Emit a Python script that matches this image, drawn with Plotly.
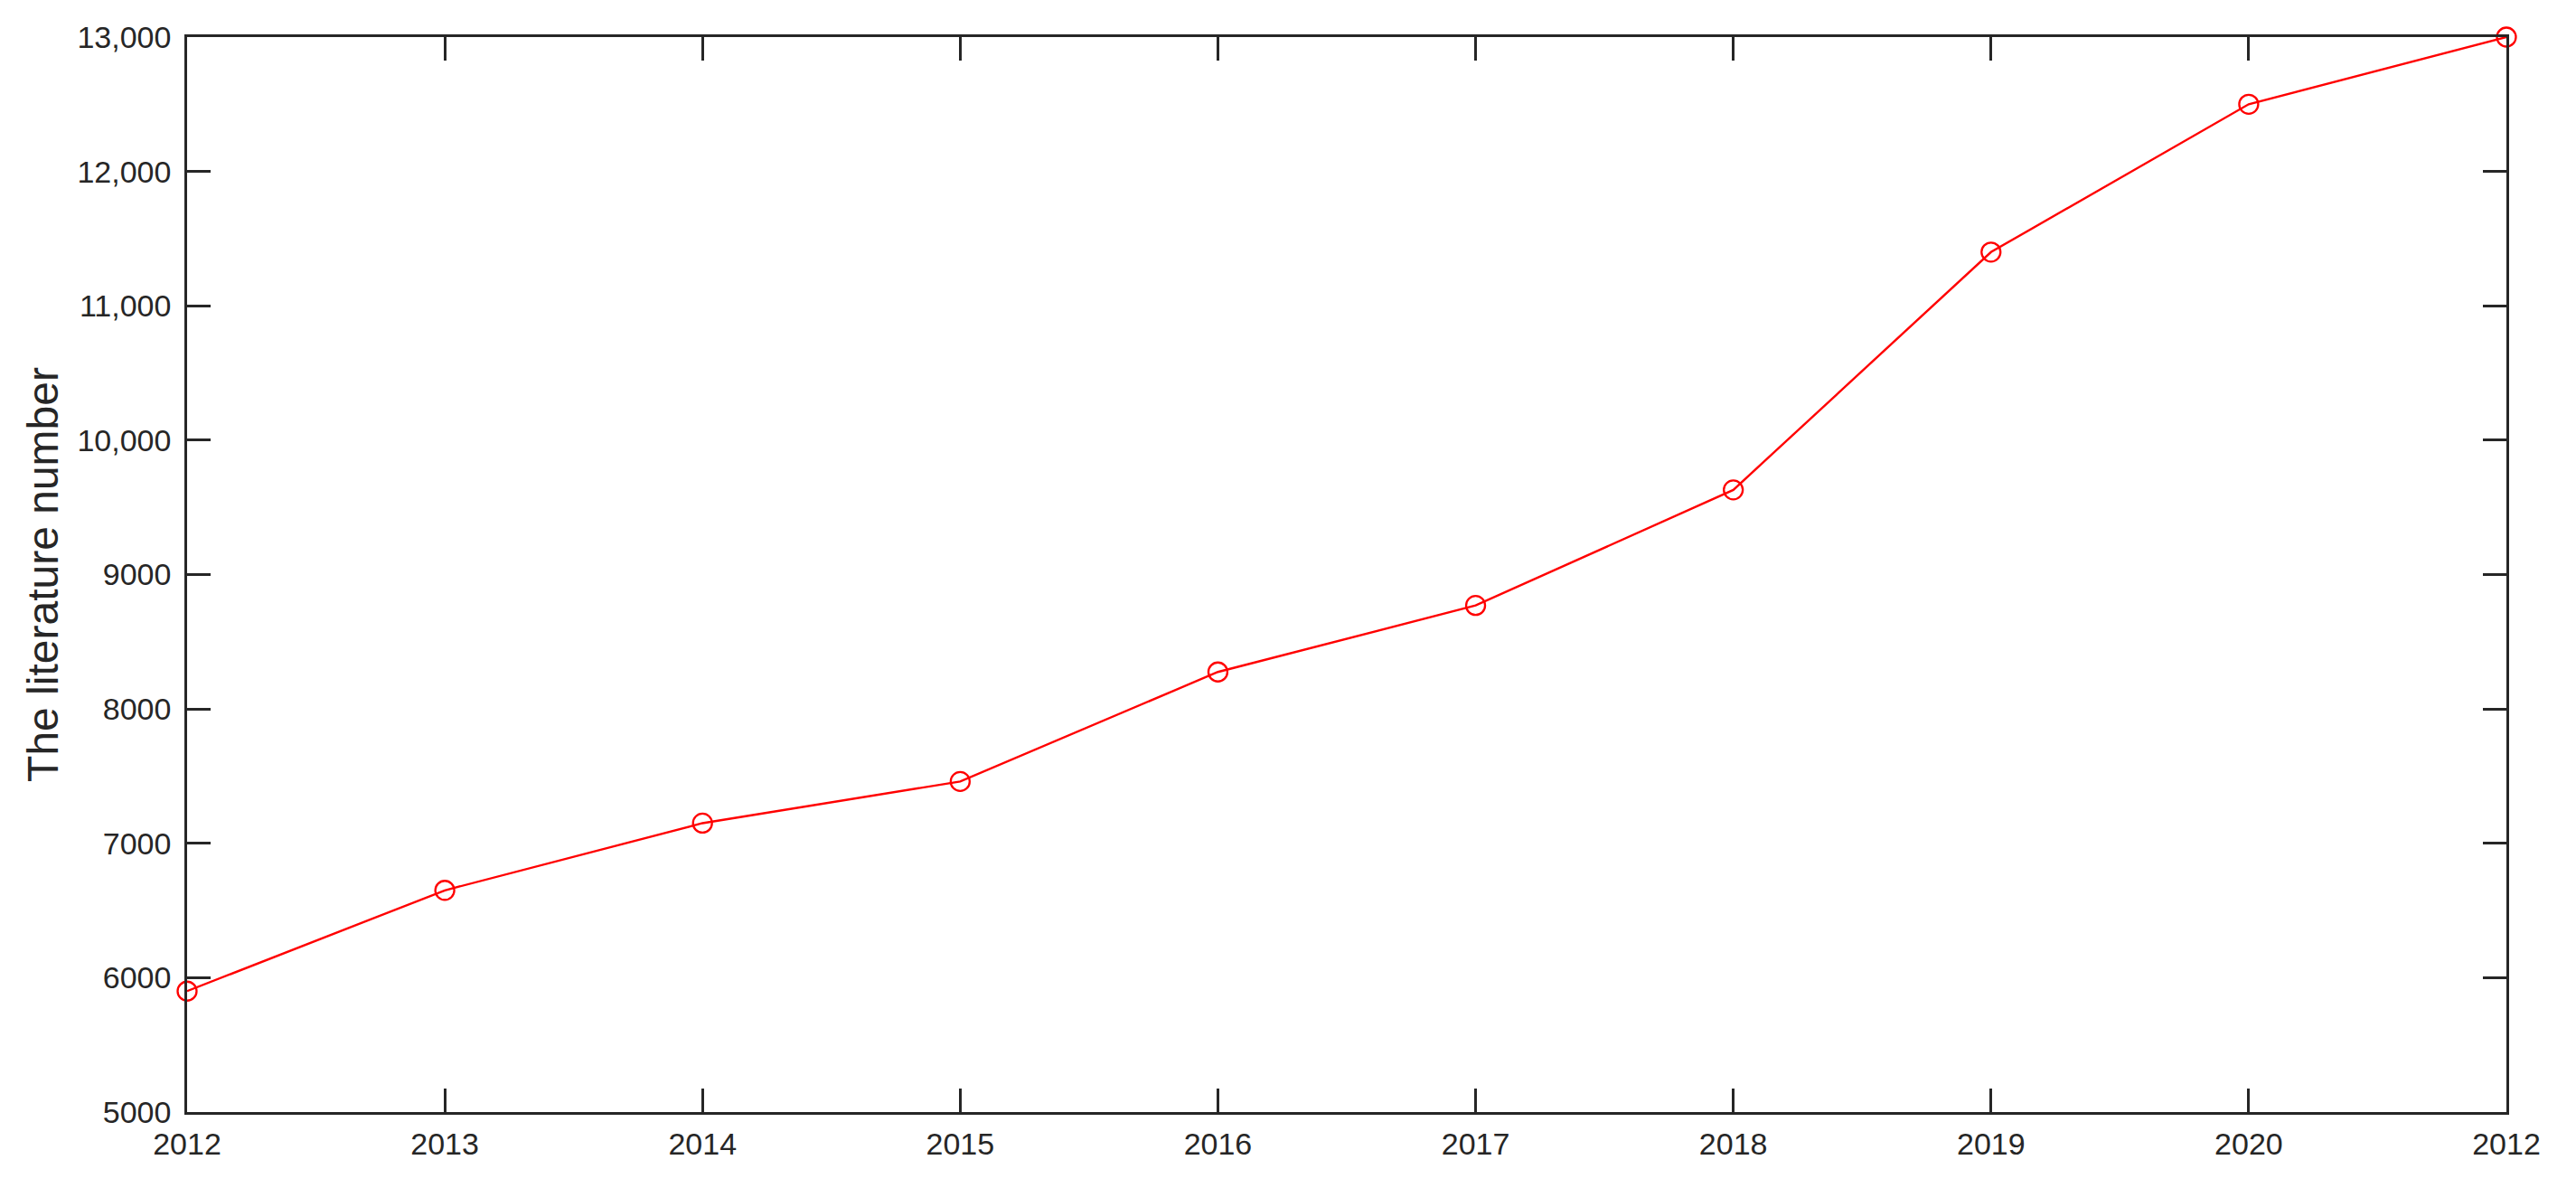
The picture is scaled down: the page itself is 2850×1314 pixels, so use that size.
import plotly.graph_objects as go

years_labels = ["2012", "2013", "2014", "2015", "2016", "2017", "2018", "2019", "2020", "2012"]
positions = list(range(len(years_labels)))
literature_number = [5900, 6650, 7150, 7460, 8275, 8770, 9630, 11400, 12500, 13000]

y_tickvals = [5000, 6000, 7000, 8000, 9000, 10000, 11000, 12000, 13000]
y_ticktext = ["5000", "6000", "7000", "8000", "9000", "10,000", "11,000", "12,000", "13,000"]

axis_color = "#262626"
font_family = "Liberation Sans, Arial, sans-serif"

fig = go.Figure()
fig.add_trace(go.Scatter(
    x=positions,
    y=literature_number,
    mode="lines+markers",
    line=dict(color="#FF0000", width=2.4),
    marker=dict(symbol="circle-open", size=21, color="#FF0000", line=dict(width=2.3, color="#FF0000")),
    cliponaxis=False,
    showlegend=False,
))

fig.update_layout(
    width=2834,
    height=1298,
    margin=dict(l=199, r=69, t=33, b=76, pad=0),
    paper_bgcolor="white",
    plot_bgcolor="white",
    font=dict(family=font_family, size=34, color=axis_color),
)

fig.update_xaxes(
    range=[0, 9],
    tickmode="array",
    tickvals=positions,
    ticktext=years_labels,
    ticks="inside",
    ticklen=26,
    tickwidth=2.5,
    tickcolor=axis_color,
    showline=True,
    linewidth=2.5,
    linecolor=axis_color,
    mirror="ticks",
    showgrid=False,
    zeroline=False,
    ticklabelstandoff=3,
    tickfont=dict(size=34, color=axis_color),
)

fig.update_yaxes(
    range=[5000, 13000],
    tickmode="array",
    tickvals=y_tickvals,
    ticktext=y_ticktext,
    ticks="inside",
    ticklen=26,
    tickwidth=2.5,
    tickcolor=axis_color,
    showline=True,
    linewidth=2.5,
    linecolor=axis_color,
    mirror="ticks",
    showgrid=False,
    zeroline=False,
    ticklabelstandoff=8,
    tickfont=dict(size=34, color=axis_color),
    title=dict(text="The literature number", font=dict(size=48, color=axis_color), standoff=6),
)

fig.write_html("out.html")
